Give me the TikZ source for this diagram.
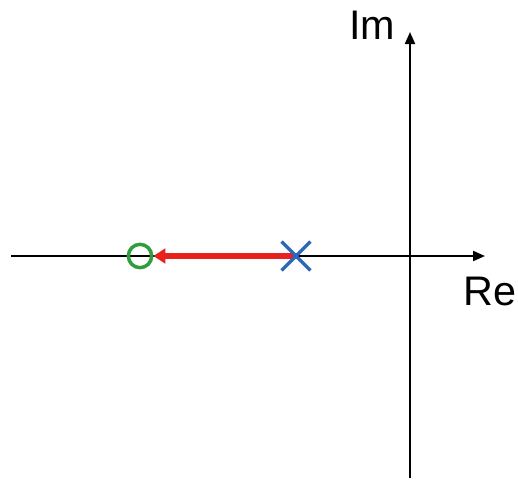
\documentclass[tikz,border=0pt]{standalone}
\usepackage{fontspec}
\setmainfont{Liberation Sans}
\usetikzlibrary{arrows.meta,shapes.misc}
\definecolor{cpole}{HTML}{2F66B8}
\definecolor{czero}{HTML}{2E9E3A}
\definecolor{cloc}{HTML}{E8201E}
\tikzset{
  axis/.style={line width=1.5pt, -{Triangle[length=9pt, width=7.5pt]}},
  pole/.style={cross out, draw=cpole, line width=2.6pt, minimum size=19pt, inner sep=0pt},
  zero/.style={circle, draw=czero, line width=2.6pt, minimum size=17.5pt, inner sep=0pt},
  locus/.style={draw=cloc, line width=3.8pt, -{Triangle[length=9pt, width=11pt]}, shorten <=-1pt},
  axlbl/.style={font=\fontsize{31}{31}\selectfont},
}
\begin{document}
\begin{tikzpicture}[x=0.75pt,y=-0.75pt]
\useasboundingbox (0,0) rectangle (518,479);
% ---------------- axes
\coordinate (o) at (410,256);
\coordinate (rl) at (11,256);
\coordinate (rr) at (485,256);
\coordinate (ib) at (410,478);
\coordinate (it) at (410,32);
\draw[axis] (rl) -- (rr);
\draw[axis] (ib) -- (it);
\node[axlbl, anchor=base east] (im) at (400,39) {Im};
\node[axlbl, anchor=base west] (re) at (459,305) {Re};
% ---------------- pole moves to zero
\coordinate (p) at (296,256);
\node[zero] (z) at (140,256) {};
\draw[locus] (p) -- (z);
\node[pole] (px) at (p) {};
\end{tikzpicture}
\end{document}
